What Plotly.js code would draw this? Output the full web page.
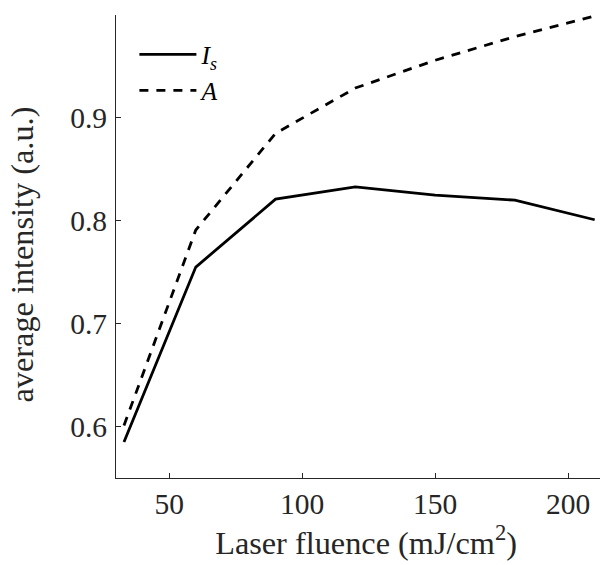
<!DOCTYPE html>
<html>
<head>
<meta charset="utf-8">
<script src="https://cdn.plot.ly/plotly-3.0.1.min.js"></script>
<style>html,body{margin:0;padding:0;background:#fff;overflow:hidden}</style>
</head>
<body>
<div id="chart" style="width:600px;height:565px"></div>
<script>
const fluence = [33, 60, 90, 120, 150, 180, 210];
const intensityIs = [0.585, 0.755, 0.821, 0.833, 0.825, 0.820, 0.801];
const intensityA = [0.601, 0.791, 0.885, 0.929, 0.956, 0.979, 0.999];
const seriesNames = ['<i>I</i><sub><i>s</i></sub>', '<i>A</i>'];
const xTicks = [50, 100, 150, 200];
const yTicks = [0.6, 0.7, 0.8, 0.9];

const serif = '"Liberation Serif", serif';
const textColor = '#262626';

const traces = [
  {x: fluence, y: intensityIs, name: seriesNames[0], mode: 'lines', type: 'scatter',
   line: {color: '#000', width: 2.8}},
  {x: fluence, y: intensityA, name: seriesNames[1], mode: 'lines', type: 'scatter',
   line: {color: '#000', width: 2.8, dash: '9px,8px'}}
];

const layout = {
  width: 600, height: 565,
  margin: {l: 116, r: 0, t: 15, b: 87},
  paper_bgcolor: '#fff', plot_bgcolor: '#fff',
  font: {family: serif, color: textColor, size: 29.5},
  showlegend: true,
  legend: {x: 0.038, y: 0.965, xanchor: 'left', yanchor: 'top', bgcolor: 'rgba(0,0,0,0)',
           font: {family: serif, size: 25.5, color: '#000'}, itemwidth: 57, tracegroupgap: 0},
  xaxis: {range: [30, 212], tickvals: xTicks, ticktext: xTicks.map(String),
          ticks: 'inside', ticklen: 5, tickcolor: textColor, tickwidth: 1,
          showline: true, linecolor: textColor, linewidth: 1, showgrid: false, zeroline: false,
          tickfont: {family: serif, size: 29.5, color: textColor},
          title: {text: '&nbsp;&nbsp;Laser fluence (mJ/cm<sup>2</sup>)', font: {family: serif, size: 32.3, color: textColor}, standoff: 5}},
  yaxis: {range: [0.55, 1.0], tickvals: yTicks, ticktext: yTicks.map(v => v.toFixed(1)),
          ticks: 'inside', ticklen: 5, tickcolor: textColor, tickwidth: 1, ticklabelstandoff: 2,
          showline: true, linecolor: textColor, linewidth: 1, showgrid: false, zeroline: false,
          tickfont: {family: serif, size: 29.5, color: textColor},
          title: {text: 'average intensity (a.u.)&nbsp;&nbsp;', font: {family: serif, size: 32.3, color: textColor}, standoff: 26}}
};

Plotly.newPlot('chart', traces, layout, {displayModeBar: false, staticPlot: true});
</script>
</body>
</html>
